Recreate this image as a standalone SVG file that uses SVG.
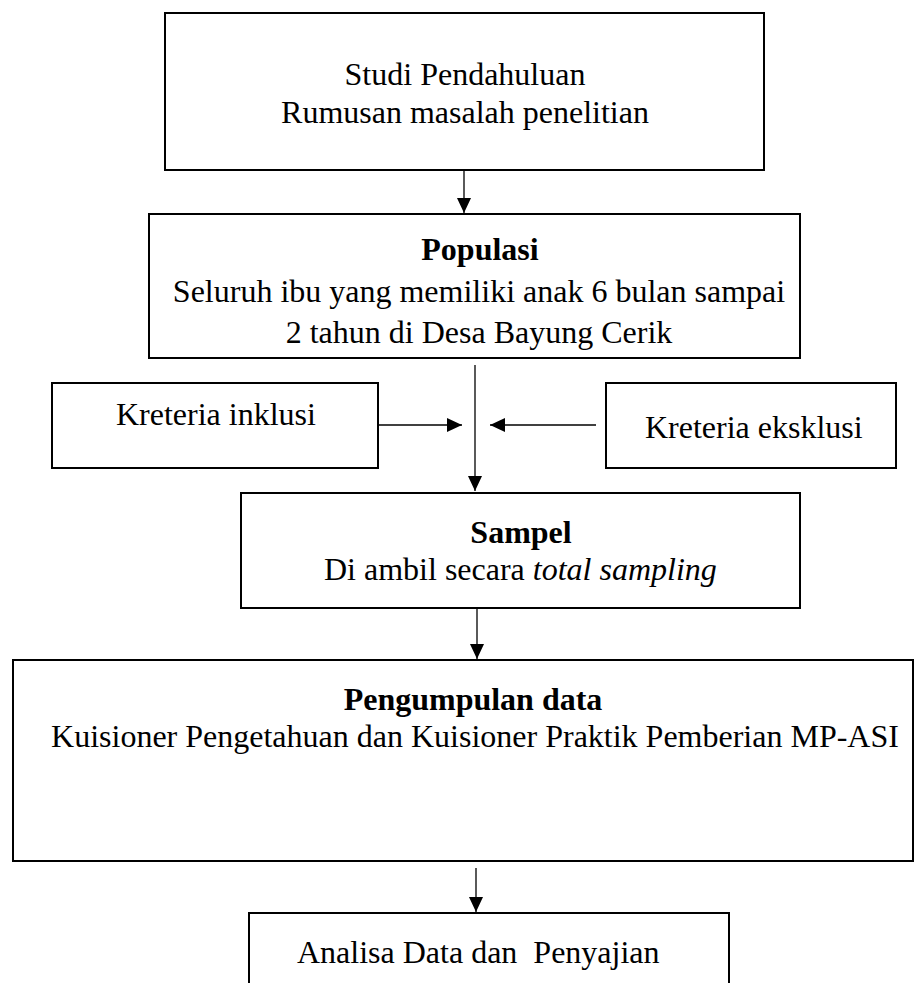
<svg xmlns="http://www.w3.org/2000/svg" width="923" height="983" viewBox="0 0 923 983">
  <style>
    .box { fill: #ffffff; stroke: #000000; stroke-width: 2; }
    .t { font-family: "Liberation Serif", "Times New Roman", serif; font-size: 32px; fill: #000000; }
    .c { text-anchor: middle; }
    .b { font-weight: bold; }
    .conn { stroke: #000000; stroke-width: 1.3; fill: none; }
  </style>
  <defs>
    <marker id="ah" markerUnits="userSpaceOnUse" markerWidth="15" markerHeight="14" refX="15" refY="7" orient="auto">
      <path d="M0,0 L15,7 L0,14 Z" fill="#000000"/>
    </marker>
  </defs>
  <rect x="0" y="0" width="923" height="983" fill="#ffffff"/>

  <g id="studi">
    <rect class="box" x="165" y="13" width="599" height="157"/>
    <text class="t c" x="465" y="85">Studi Pendahuluan</text>
    <text class="t c" x="465" y="123">Rumusan masalah penelitian</text>
  </g>

  <g id="populasi">
    <rect class="box" x="149" y="214" width="651" height="144"/>
    <text class="t c b" x="480" y="260">Populasi</text>
    <text class="t c" x="479" y="302">Seluruh ibu yang memiliki anak 6 bulan sampai</text>
    <text class="t c" x="479" y="343">2 tahun di Desa Bayung Cerik</text>
  </g>

  <g id="inklusi">
    <rect class="box" x="52" y="383" width="326" height="85"/>
    <text class="t" x="116" y="425">Kreteria inklusi</text>
  </g>

  <g id="eksklusi">
    <rect class="box" x="606" y="383" width="290" height="85"/>
    <text class="t" x="645" y="438">Kreteria eksklusi</text>
  </g>

  <g id="sampel">
    <rect class="box" x="241" y="493" width="559" height="115"/>
    <text class="t c b" x="521" y="543">Sampel</text>
    <text class="t" x="324" y="580">Di ambil secara <tspan font-style="italic">total sampling</tspan></text>
  </g>

  <g id="pengumpulan">
    <rect class="box" x="13" y="660" width="900" height="201"/>
    <text class="t c b" x="473" y="710">Pengumpulan data</text>
    <text class="t c" x="475" y="747">Kuisioner Pengetahuan dan Kuisioner Praktik Pemberian MP-ASI</text>
  </g>

  <g id="analisa">
    <rect class="box" x="249" y="913" width="480" height="100"/>
    <text class="t" x="297" y="963" xml:space="preserve">Analisa Data dan  Penyajian</text>
  </g>

  <g id="connectors">
    <line class="conn" x1="464" y1="171" x2="464" y2="213" marker-end="url(#ah)"/>
    <line class="conn" x1="475" y1="365" x2="475" y2="491" marker-end="url(#ah)"/>
    <line class="conn" x1="379" y1="425" x2="462" y2="425" marker-end="url(#ah)"/>
    <line class="conn" x1="596" y1="425" x2="490" y2="425" marker-end="url(#ah)"/>
    <line class="conn" x1="477" y1="609" x2="477" y2="659" marker-end="url(#ah)"/>
    <line class="conn" x1="476" y1="868" x2="476" y2="912" marker-end="url(#ah)"/>
  </g>
</svg>
